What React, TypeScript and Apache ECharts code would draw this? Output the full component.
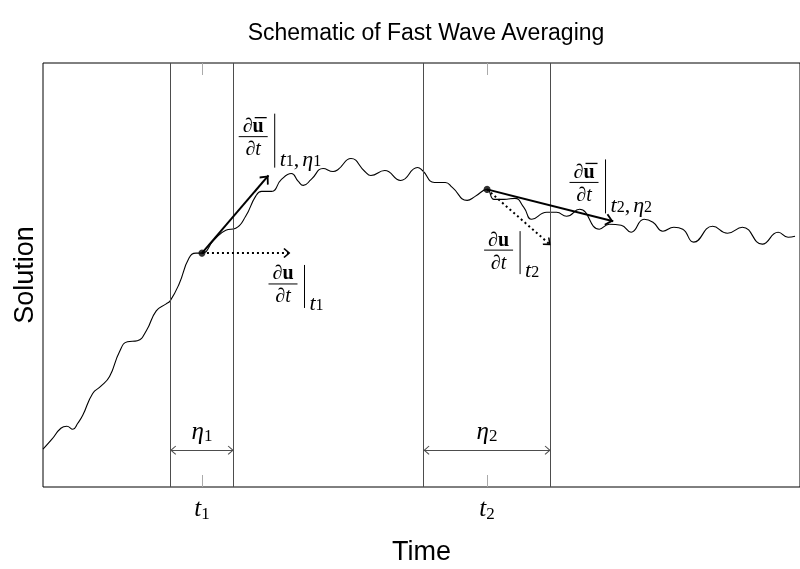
import React, { useEffect, useRef } from "react";
import * as echarts from "echarts";

// Curve samples (time, solution)
const timeX = [0, 9, 18, 24, 30, 35, 40, 50, 58, 67, 77, 85, 95, 104, 114, 124, 128, 137, 147, 154, 160, 172, 184, 194, 204, 214, 220, 230, 240, 250, 257, 262, 270, 282, 292, 297, 310, 324, 330, 344, 360, 377, 382, 394, 405, 412, 427, 435, 447, 454, 464, 475, 484, 492, 507, 517, 527, 540, 560, 570, 582, 592, 605, 614, 624, 635, 644, 655, 674, 689, 704, 724, 740, 750, 757];
const solutionY = [38, 48, 59, 61, 58, 64, 72, 94, 101, 111, 136, 146, 147, 157, 177, 184, 187, 204, 230, 235, 235, 248, 258, 260, 272, 292, 297, 297, 309, 315, 307, 303, 309, 320, 317, 319, 330, 317, 313, 318, 308, 321, 318, 306, 306, 301, 288, 292, 299, 289, 289, 290, 281, 269, 276, 276, 272, 279, 259, 264, 263, 256, 269, 266, 257, 261, 259, 246, 262, 255, 261, 244, 256, 251, 252];

// Sample times and averaging windows
const tickValues = [160, 447];
const tickIndex = ["1", "2"];
const windowStart = [128, 383];
const windowEnd = [192, 511];
const windowLevel = 37;

// Points where derivatives are drawn
const dotX = [160, 447];
const dotY = [235, 299];
const avgTipX = [227, 574];
const avgTipY = [313, 267];
const instTipX = [249, 511];
const instTipY = [235, 243];

// Annotation anchors (left end of fraction bar), data units
const labelX = [197, 227, 530, 444];
const labelY = [352, 204, 306, 238];
const labelAveraged = [true, false, true, false];
const labelIndex = ["1", "1", "2", "2"];

const X_MAX = 762;
const Y_MAX = 426;

const serif = "'Liberation Serif', 'DejaVu Serif', serif";
const sans = "'Liberation Sans', Arial, sans-serif";
const thinHead = "path://M0,0 L10,10 L8.5,11.5 L0,3 L-8.5,11.5 L-10,10 Z";
const thickHead = "path://M0,0 L10,10 L8,12 L0,4 L-8,12 L-10,10 Z";

const subRich = {
  t: { fontSize: 22, fontStyle: "italic", fontFamily: serif, color: "#000", lineHeight: 20, verticalAlign: "middle" },
  e: { fontSize: 22, fontStyle: "italic", fontFamily: serif, color: "#000", lineHeight: 20, verticalAlign: "middle" },
  c: { fontSize: 22, fontFamily: serif, color: "#000", lineHeight: 20, verticalAlign: "middle", padding: [0, 3, 0, 0] },
  n: { fontSize: 16, fontFamily: serif, color: "#000", lineHeight: 14, verticalAlign: "bottom" },
};

const fracRich = {
  d: { fontSize: 20, fontFamily: serif, color: "#000", lineHeight: 23 },
  b: { fontSize: 20, fontFamily: serif, fontWeight: "bold", color: "#000", lineHeight: 23 },
  i: { fontSize: 20, fontFamily: serif, fontStyle: "italic", color: "#000", lineHeight: 23 },
};

function mathLabel(x: number, y: number, averaged: boolean, k: string) {
  const sub = averaged ? `{t|t}{n|${k}}{c|,}{e|η}{n|${k}}` : `{t|t}{n|${k}}`;
  const children: any[] = [
    {
      type: "text",
      x: 14.5,
      y: 0,
      style: { text: "{d|∂}{b|u}\n{d|∂}{i|t}", rich: fracRich, align: "center", verticalAlign: "middle" },
    },
    { type: "line", shape: { x1: 0, y1: 0, x2: 29, y2: 0 }, style: { stroke: "#000", lineWidth: 1 } },
    { type: "line", shape: { x1: 36, y1: averaged ? -23 : -19, x2: 36, y2: averaged ? 31 : 24 }, style: { stroke: "#000", lineWidth: 1 } },
    { type: "text", x: 41, y: averaged ? 22 : 19, style: { text: sub, rich: subRich, align: "left", verticalAlign: "middle" } },
  ];
  if (averaged) {
    children.push({ type: "line", shape: { x1: 16, y1: -19, x2: 28, y2: -19 }, style: { stroke: "#000", lineWidth: 1.3 } });
  }
  return { type: "group", x, y, silent: true, children };
}

export default function App() {
  const ref = useRef<HTMLDivElement>(null);
  useEffect(() => {
    if (!ref.current) return;
    const chart = echarts.init(ref.current, null, { renderer: "svg" });
    const curve = timeX.map((t, i) => [t, solutionY[i]]);

    const markData: any[] = [];
    [...windowStart, ...windowEnd].forEach((v) => {
      markData.push({ xAxis: v, lineStyle: { color: "#4d4d4d", width: 1, type: "solid" }, label: { show: false } });
    });
    windowStart.forEach((s, i) => {
      markData.push([
        {
          coord: [s, windowLevel],
          symbol: thinHead,
          symbolSize: [9, 6],
          symbolOffset: [0, 3],
          lineStyle: { color: "#4d4d4d", width: 1, type: "solid" },
          label: {
            show: true,
            position: "middle",
            distance: 6,
            formatter: `{e|η}{n|${tickIndex[i]}}`,
            rich: {
              e: { fontSize: 25, fontStyle: "italic", fontFamily: serif, color: "#000", lineHeight: 28, verticalAlign: "middle" },
              n: { fontSize: 17, fontFamily: serif, color: "#000", lineHeight: 18, verticalAlign: "bottom" },
            },
          },
        },
        { coord: [windowEnd[i], windowLevel], symbol: thinHead, symbolSize: [9, 6], symbolOffset: [0, 3] },
      ]);
    });
    dotX.forEach((x, i) => {
      markData.push([
        { coord: [x, dotY[i]], symbol: "none", lineStyle: { color: "#000", width: 2, type: "solid" }, label: { show: false } },
        { coord: [avgTipX[i], avgTipY[i]], symbol: thickHead, symbolSize: [12, 8], symbolOffset: [0, 4] },
      ]);
      markData.push([
        { coord: [x, dotY[i]], symbol: "none", lineStyle: { color: "#000", width: 2, type: [2, 3] }, label: { show: false } },
        { coord: [instTipX[i], instTipY[i]], symbol: thickHead, symbolSize: [10, 7], symbolOffset: [0, 3.5] },
      ]);
    });

    chart.setOption({
      animation: false,
      title: {
        text: "Schematic of Fast Wave Averaging",
        left: 421,
        top: 15,
        textAlign: "center",
        textStyle: { fontSize: 23, fontWeight: "normal", fontFamily: sans, color: "#000" },
      },
      grid: { left: 43, top: 63, right: -5, bottom: 80, show: true, borderColor: "#000", borderWidth: 1, backgroundColor: "transparent" },
      xAxis: [
        {
          type: "value",
          min: 0,
          max: X_MAX,
          position: "bottom",
          name: "Time",
          nameLocation: "middle",
          nameGap: 50,
          nameTextStyle: { fontSize: 27, fontFamily: sans, color: "#000" },
          axisLine: { show: false },
          splitLine: { show: false },
          axisTick: { show: true, inside: true, length: 12, customValues: tickValues, lineStyle: { color: "#aaaaaa", width: 1 } },
          axisLabel: {
            show: true,
            customValues: tickValues,
            margin: 5,
            formatter: (v: number) => `{t|t}{n|${tickIndex[tickValues.indexOf(v)]}}`,
            rich: {
              t: { fontSize: 25, fontStyle: "italic", fontFamily: serif, color: "#000", lineHeight: 30, verticalAlign: "middle" },
              n: { fontSize: 17, fontFamily: serif, color: "#000", lineHeight: 18, verticalAlign: "bottom" },
            },
          },
        },
        {
          type: "value",
          min: 0,
          max: X_MAX,
          position: "top",
          axisLine: { show: false },
          splitLine: { show: false },
          axisTick: { show: true, inside: true, length: 12, customValues: tickValues, lineStyle: { color: "#aaaaaa", width: 1 } },
          axisLabel: { show: false },
        },
      ],
      yAxis: {
        type: "value",
        min: 0,
        max: Y_MAX,
        name: "Solution",
        nameLocation: "middle",
        nameGap: 6,
        nameTextStyle: { fontSize: 27, fontFamily: sans, color: "#000" },
        axisLine: { show: false },
        axisTick: { show: false },
        axisLabel: { show: false },
        splitLine: { show: false },
      },
      series: [
        {
          type: "line",
          data: curve,
          smooth: 0.5,
          showSymbol: false,
          symbol: "none",
          lineStyle: { color: "#000", width: 1.1 },
          silent: true,
          z: 3,
        },
        {
          type: "scatter",
          data: dotX.map((x, i) => [x, dotY[i]]),
          symbolSize: 7,
          itemStyle: { color: "#000" },
          silent: true,
          z: 5,
          markLine: { silent: true, animation: false, symbol: ["none", "none"], data: markData, z: 4 },
        },
      ],
    });

    const graphics = labelX.map((x, i) => {
      const p = chart.convertToPixel({ seriesIndex: 0 }, [x, labelY[i]]) as number[];
      return mathLabel(p[0], p[1], labelAveraged[i], labelIndex[i]);
    });
    chart.setOption({ graphic: graphics });

    return () => chart.dispose();
  }, []);
  return <div ref={ref} style={{ position: "fixed", left: 0, top: 0, width: 800, height: 569 }} />;
}
